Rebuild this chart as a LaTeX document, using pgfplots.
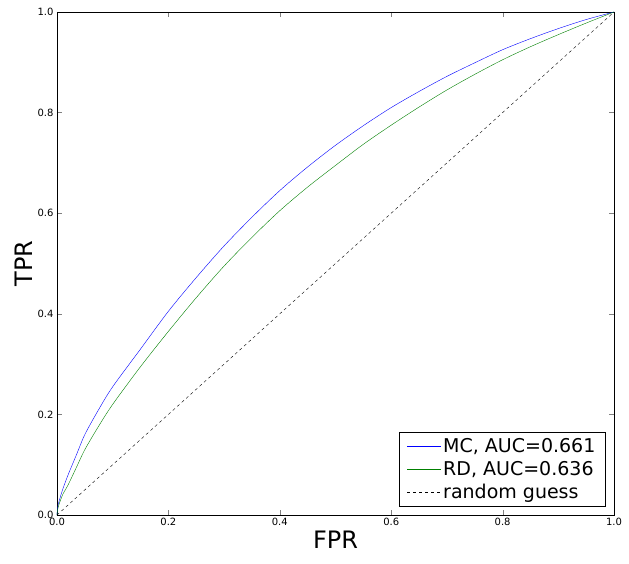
\documentclass[border=0pt]{standalone}
\usepackage{pgfplots}
\pgfplotsset{compat=1.18}
\usepackage{fontspec}
\setmainfont{DejaVu Sans}
\begin{document}
\begin{tikzpicture}
\begin{axis}[
  scale only axis, width=557pt, height=503pt,
  xmin=0, xmax=1, ymin=0, ymax=1,
  xtick={0,0.2,...,1}, ytick={0,0.2,...,1},
  /pgf/number format/assume math mode=true,
  /pgf/number format/fixed, /pgf/number format/fixed zerofill, /pgf/number format/precision=1,
  tick label style={font=\fontsize{10}{12}\selectfont},
  tick align=inside, tick pos=both, major tick length=5pt,
  xlabel={FPR}, ylabel={TPR},
  label style={font=\fontsize{24}{28}\selectfont},
  xlabel style={yshift=2pt}, ylabel style={yshift=-2pt},
  legend style={font=\fontsize{19}{24}\selectfont, draw=black, inner xsep=8pt, inner ysep=4pt, row sep=3pt, at={(0.985,0.018)}, anchor=south east},
  legend cell align=left,
  legend image code/.code={\draw[#1] (0pt,0pt) -- (34pt,0pt);},
  clip=false,
]
\addplot[blue, thin, smooth] coordinates {(0,0) (0.002,0.02) (0.01,0.05) (0.02,0.08) (0.035,0.12) (0.05,0.16) (0.075,0.21) (0.1,0.255) (0.15,0.33) (0.2,0.405) (0.25,0.472) (0.3,0.535) (0.35,0.592) (0.4,0.645) (0.45,0.692) (0.5,0.735) (0.55,0.774) (0.6,0.81) (0.65,0.842) (0.7,0.872) (0.75,0.899) (0.8,0.925) (0.85,0.947) (0.9,0.967) (0.95,0.985) (1,1)};
\addlegendentry{MC, AUC=0.661}
\addplot[green!50!black, thin, smooth] coordinates {(0,0) (0.002,0.015) (0.01,0.04) (0.02,0.06) (0.035,0.095) (0.05,0.13) (0.075,0.177) (0.1,0.22) (0.15,0.295) (0.2,0.365) (0.25,0.432) (0.3,0.495) (0.35,0.552) (0.4,0.605) (0.45,0.652) (0.5,0.695) (0.55,0.737) (0.6,0.775) (0.65,0.811) (0.7,0.845) (0.75,0.876) (0.8,0.905) (0.85,0.931) (0.9,0.955) (0.95,0.978) (1,1)};
\addlegendentry{RD, AUC=0.636}
\addplot[black, dashed, thin] coordinates {(0,0) (1,1)};
\addlegendentry{random guess}
\path (rel axis cs:1,0) ++(15pt,-48pt) coordinate (br);
\path[use as bounding box] (rel axis cs:0,1) ++(-57pt,12pt) rectangle (br);
\end{axis}
\end{tikzpicture}
\end{document}
